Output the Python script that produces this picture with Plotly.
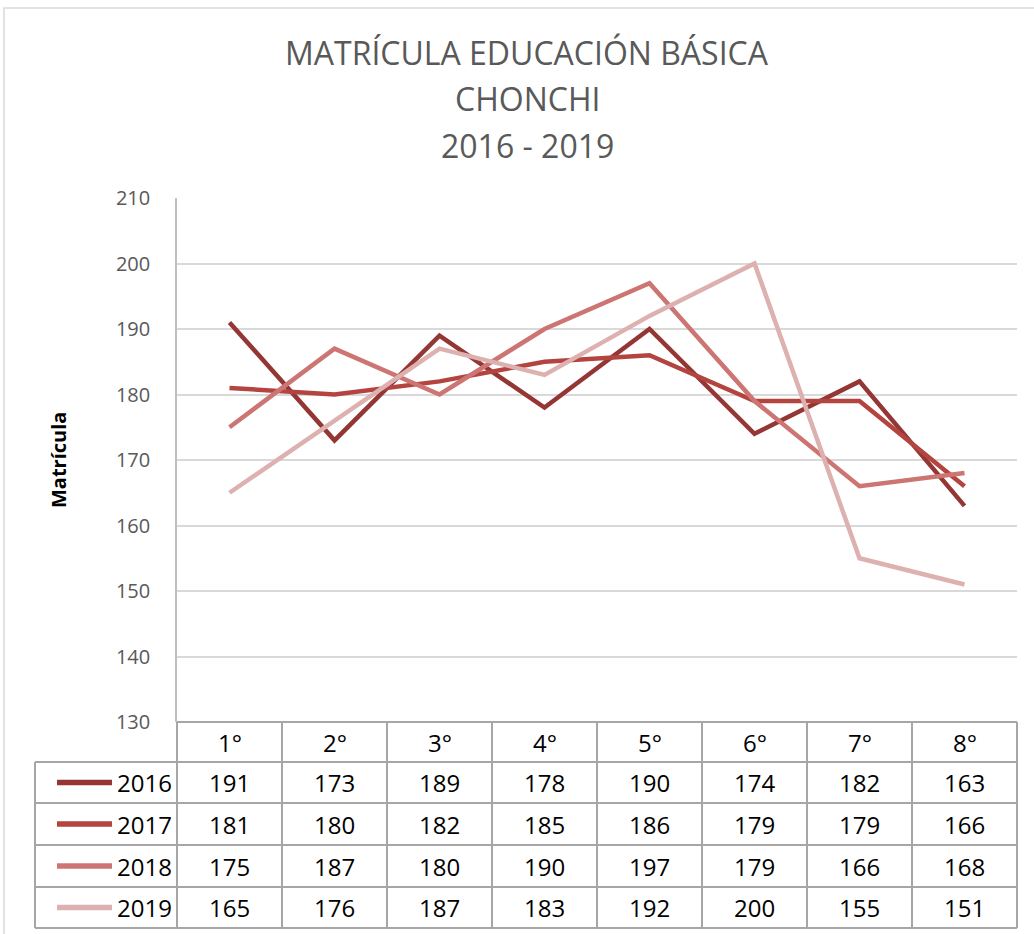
import plotly.graph_objects as go

categories = ["1°", "2°", "3°", "4°", "5°", "6°", "7°", "8°"]
years = ["2016", "2017", "2018", "2019"]
v2016 = [191, 173, 189, 178, 190, 174, 182, 163]
v2017 = [181, 180, 182, 185, 186, 179, 179, 166]
v2018 = [175, 187, 180, 190, 197, 179, 166, 168]
v2019 = [165, 176, 187, 183, 192, 200, 155, 151]
series = [v2016, v2017, v2018, v2019]
colors = ["#943634", "#B3443F", "#CC7573", "#DDB1B0"]
yticks = [130, 140, 150, 160, 170, 180, 190, 200, 210]
title_lines = ["MATRÍCULA EDUCACIÓN BÁSICA", "CHONCHI", "2016 - 2019"]

W, H = 1034, 934
L, R, T, B = 177, 17, 198, 212
plot_w = W - L - R
plot_h = H - T - B
n = len(categories)
xs = list(range(n))

fig = go.Figure()
for name, vals, col in zip(years, series, colors):
    fig.add_trace(go.Scatter(x=xs, y=vals, mode="lines", name=name,
                             line=dict(color=col, width=4.5),
                             showlegend=False, hoverinfo="skip"))

def py(pixel_y):
    return (H - B - pixel_y) / plot_h

def px(pixel_x):
    return (pixel_x - L) / plot_w

def cat_edge(i):
    return i / n

grid_col = "#A6A6A6"
font_fam = "'Open Sans', Lato, sans-serif"
row_edges = [722, 762, 803, 845, 887, 928]
shapes = []
line_style = dict(color=grid_col, width=2)
shapes.append(dict(type="line", xref="paper", yref="paper", x0=0, x1=1,
                   y0=py(row_edges[0]), y1=py(row_edges[0]), line=line_style))
for ry in row_edges[1:]:
    shapes.append(dict(type="line", xref="paper", yref="paper", x0=px(35), x1=1,
                       y0=py(ry), y1=py(ry), line=line_style))
for i in range(n + 1):
    shapes.append(dict(type="line", xref="paper", yref="paper", x0=cat_edge(i), x1=cat_edge(i),
                       y0=py(row_edges[0]), y1=py(row_edges[-1]), line=line_style))
shapes.append(dict(type="line", xref="paper", yref="paper", x0=px(35), x1=px(35),
                   y0=py(row_edges[1]), y1=py(row_edges[-1]), line=line_style))
shapes.append(dict(type="rect", xref="paper", yref="paper",
                   x0=px(4), x1=px(1045), y0=py(945), y1=py(8),
                   line=dict(color="#D9D9D9", width=1.5), layer="below"))

cell_font = dict(size=24, color="#000000", family=font_fam)
annotations = []
for i, c in enumerate(categories):
    annotations.append(dict(x=i, y=py((row_edges[0] + row_edges[1]) / 2), xref="x", yref="paper",
                            text=c, showarrow=False, xanchor="center", yanchor="middle",
                            font=cell_font))
for r, (name, vals, col) in enumerate(zip(years, series, colors)):
    yc = py((row_edges[r + 1] + row_edges[r + 2]) / 2)
    for i, v in enumerate(vals):
        annotations.append(dict(x=i, y=yc, xref="x", yref="paper", text=str(v), showarrow=False,
                                xanchor="center", yanchor="middle", font=cell_font))
    shapes.append(dict(type="line", xref="paper", yref="paper",
                       x0=px(57), x1=px(112), y0=yc, y1=yc, line=dict(color=col, width=5.5)))
    annotations.append(dict(x=px(115), y=yc, xref="paper", yref="paper",
                            text=name, showarrow=False, xanchor="left", yanchor="middle",
                            font=cell_font))

annotations.append(dict(x=px(58), y=py(460), xref="paper", yref="paper",
                        text="<b>Matrícula</b>", showarrow=False, textangle=-90,
                        xanchor="center", yanchor="middle",
                        font=dict(size=20, color="#000000", family=font_fam)))

for txt, yy in zip(title_lines, [52, 98, 145]):
    annotations.append(dict(x=px(527), y=py(yy), xref="paper", yref="paper", text=txt,
                            showarrow=False, xanchor="center", yanchor="middle",
                            font=dict(size=32, color="#595959", family=font_fam)))

fig.update_layout(
    width=W, height=H, autosize=False,
    margin=dict(l=L, r=R, t=T, b=B),
    paper_bgcolor="white", plot_bgcolor="white",
    xaxis=dict(range=[-0.5, n - 0.5], showticklabels=False, showgrid=False, zeroline=False,
               showline=False, fixedrange=True),
    yaxis=dict(range=[130, 210], tickvals=yticks, showgrid=True, gridcolor="#D9D9D9", gridwidth=1.5,
               zeroline=False, showline=True, linecolor="#BFBFBF", linewidth=1.5,
               tickfont=dict(size=20, color="#595959", family=font_fam), ticks="",
               ticklabelstandoff=21),
    shapes=shapes, annotations=annotations,
)

fig.write_html("out.html", config={"displayModeBar": False},
               post_script="document.body.style.margin='0';document.body.style.overflow='hidden';")
